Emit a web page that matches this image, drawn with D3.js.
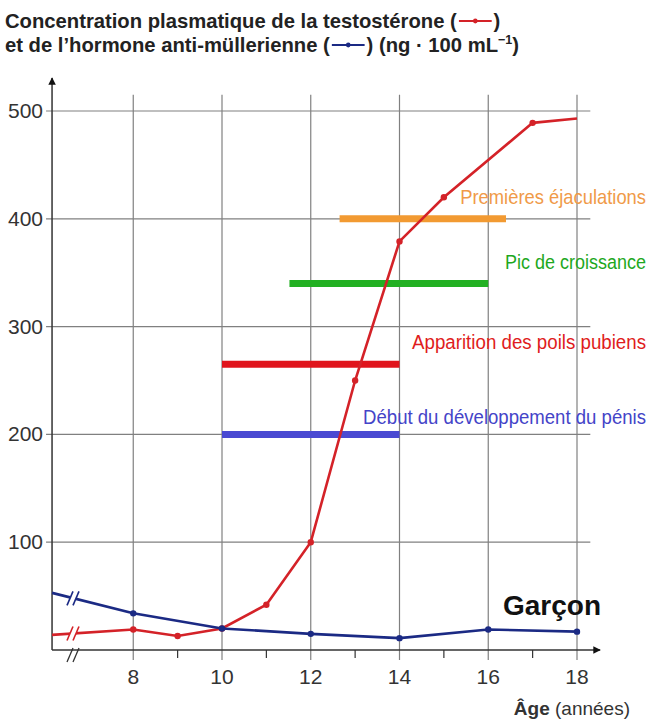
<!DOCTYPE html>
<html lang="fr">
<head>
<meta charset="utf-8">
<title>Testostérone et AMH - Garçon</title>
<script src="https://cdn.jsdelivr.net/npm/d3@7"></script>
<style>
  body { margin: 0; background: #fff; }
  svg text { font-family: "Liberation Sans", Arial, sans-serif; }
</style>
</head>
<body>
<svg id="chart" width="652" height="722"></svg>
<script>
// --- data ---
var testoAges   = [6.17, 8, 9, 10, 11, 12, 13, 14, 15, 17, 18];
var testoValues = [14, 19, 13, 20, 42, 100, 250, 379, 420, 489, 493];
var testoDots   = [8, 9, 10, 11, 12, 13, 14, 15, 17];

var amhAges   = [6.17, 8, 10, 12, 14, 16, 18];
var amhValues = [53, 34, 20, 15, 11, 19, 17];
var amhDots   = [8, 10, 12, 14, 16, 18];

var eventLabels = ["Premières éjaculations", "Pic de croissance", "Apparition des poils pubiens", "Début du développement du pénis"];
var eventStart  = [12.65, 11.52, 10, 10];
var eventEnd    = [16.4, 16, 14, 14];
var eventLevel  = [400, 340, 265, 200];
var eventColors = ["#f29a32", "#22b022", "#e0141c", "#4a4ad2"];
var textColors  = ["#f09a48", "#1ea81e", "#e01c20", "#4444c8"];
var eventText   = [204, 269, 349, 424];
var textWidths  = [186, 141, 234, 283];

var xTicks = [8, 10, 12, 14, 16, 18];
var xMinor = [9, 11, 13, 15, 17];
var yTicks = [100, 200, 300, 400, 500];

var svg = d3.select("#chart");

var x = d3.scaleLinear().domain([10, 18]).range([222, 577]);
var y = d3.scaleLinear().domain([0, 500]).range([650, 111]);

var x0 = x(6.17), xEnd = x(18.52);
var gridColor = "#808080";

// grid
svg.append("g").selectAll("line.h")
    .data(yTicks).enter().append("line")
    .attr("x1", x0 - 6).attr("x2", x(18.3))
    .attr("y1", d => y(d)).attr("y2", d => y(d))
    .style("stroke", gridColor).style("stroke-width", 1.2);

svg.append("g").selectAll("line.v")
    .data(xTicks).enter().append("line")
    .attr("x1", d => x(d)).attr("x2", d => x(d))
    .attr("y1", y(515)).attr("y2", y(0) + 10)
    .style("stroke", gridColor).style("stroke-width", 1.2);

svg.append("g").selectAll("line.m")
    .data(xMinor).enter().append("line")
    .attr("x1", d => x(d)).attr("x2", d => x(d))
    .attr("y1", y(0)).attr("y2", y(0) + 8)
    .style("stroke", "#333").style("stroke-width", 1.2);

// axes with arrows
svg.append("defs").append("marker")
    .attr("id", "arrow").attr("viewBox", "0 0 10 10")
    .attr("refX", 9).attr("refY", 5)
    .attr("markerWidth", 5).attr("markerHeight", 5)
    .attr("orient", "auto")
    .append("path").attr("d", "M0,0 L10,5 L0,10 z").style("fill", "#111");

svg.append("line")
    .attr("x1", x0).attr("x2", x0).attr("y1", y(0)).attr("y2", 78)
    .style("stroke", "#333").style("stroke-width", 1.5)
    .attr("marker-end", "url(#arrow)");
svg.append("line")
    .attr("x1", x0).attr("x2", xEnd).attr("y1", y(0)).attr("y2", y(0))
    .style("stroke", "#333").style("stroke-width", 1.5)
    .attr("marker-end", "url(#arrow)");

svg.append("g").selectAll("text")
    .data(yTicks).enter().append("text")
    .attr("x", 43).attr("y", d => y(d) + 7)
    .attr("text-anchor", "end")
    .style("font-size", "21px").style("fill", "#333")
    .text(d => d);

svg.append("g").selectAll("text")
    .data(xTicks).enter().append("text")
    .attr("x", d => x(d)).attr("y", 684)
    .attr("text-anchor", "middle")
    .style("font-size", "21px").style("fill", "#333")
    .text(d => d);

var axisTitle = svg.append("text")
    .attr("x", 630).attr("y", 715)
    .attr("text-anchor", "end")
    .style("font-size", "19px").style("fill", "#333");
axisTitle.append("tspan").style("font-weight", "bold").text("Âge");
axisTitle.append("tspan").text(" (années)");

// event bars
svg.append("g").selectAll("line")
    .data(eventLabels).enter().append("line")
    .attr("x1", (d, i) => x(eventStart[i]))
    .attr("x2", (d, i) => x(eventEnd[i]))
    .attr("y1", (d, i) => y(eventLevel[i]))
    .attr("y2", (d, i) => y(eventLevel[i]))
    .style("stroke", (d, i) => eventColors[i])
    .style("stroke-width", 7);

// labels squeezed horizontally (condensed look) with a scale transform
svg.append("g").selectAll("text")
    .data(eventLabels).enter().append("text")
    .attr("x", 0).attr("y", 0)
    .attr("text-anchor", "end")
    .style("font-size", "20px")
    .style("fill", (d, i) => textColors[i])
    .text(d => d)
    .attr("transform", function (d, i) {
        var w = this.getComputedTextLength();
        return "translate(646," + eventText[i] + ") scale(" + (textWidths[i] / w) + ",1)";
    });

// curves
var line = d3.line().x(d => x(d[0])).y(d => y(d[1]));

function drawCurve(ages, values, dots, color) {
    var pts = ages.map((a, i) => [a, values[i]]);
    svg.append("path")
        .datum(pts)
        .attr("d", line)
        .style("fill", "none")
        .style("stroke", color)
        .style("stroke-width", 2.6);
    svg.append("g").selectAll("circle")
        .data(pts.filter(p => dots.indexOf(p[0]) >= 0)).enter()
        .append("circle")
        .attr("cx", d => x(d[0])).attr("cy", d => y(d[1]))
        .attr("r", 3.2)
        .style("fill", color);
}

drawCurve(testoAges, testoValues, testoDots, "#d42228");
drawCurve(amhAges, amhValues, amhDots, "#1b2a84");

// break marks (//)
function breakMark(cx, cy, color) {
    var g = svg.append("g").attr("transform", "translate(" + cx + "," + cy + ")");
    g.append("rect").attr("x", -4).attr("y", -6).attr("width", 6).attr("height", 12)
        .style("fill", "#fff");
    [-4, 2].forEach(dx => {
        g.append("line")
            .attr("x1", dx - 3).attr("y1", 7).attr("x2", dx + 3).attr("y2", -7)
            .style("stroke", color).style("stroke-width", 1.6);
    });
}
var xb = 74;
var interp = (ages, values) => values[0] + (values[1] - values[0]) * (x.invert(xb) - ages[0]) / (ages[1] - ages[0]);
breakMark(xb, y(interp(amhAges, amhValues)), "#1b2a84");
breakMark(xb, y(interp(testoAges, testoValues)), "#d42228");
// axis break below
[-4, 2].forEach(dx => {
    svg.append("line")
        .attr("x1", xb + dx - 3).attr("y1", y(0) + 12).attr("x2", xb + dx + 3).attr("y2", y(0) - 2)
        .style("stroke", "#333").style("stroke-width", 1.3);
});

// Garçon
svg.append("text")
    .attr("x", 503).attr("y", 615)
    .style("font-size", "28px").style("font-weight", "bold")
    .style("fill", "#111")
    .text("Garçon");

// title with inline legend marks (condensed horizontally to match)
var title = svg.append("g")
    .style("font-size", "21px").style("font-weight", "bold").style("fill", "#222");

function legendMark(xs, ys, color) {
    title.append("line").attr("x1", xs).attr("x2", xs + 34).attr("y1", ys).attr("y2", ys)
        .style("stroke", color).style("stroke-width", 2.2);
    title.append("circle").attr("cx", xs + 17).attr("cy", ys).attr("r", 2.4).style("fill", color);
}

var t1 = title.append("text").attr("x", 0).attr("y", 28)
    .text("Concentration plasmatique de la testostérone (");
var w1 = t1.node().getComputedTextLength();
legendMark(w1 + 2, 21, "#d42228");
title.append("text").attr("x", w1 + 38).attr("y", 28).text(")");

var t2 = title.append("text").attr("x", 0).attr("y", 52)
    .text("et de l’hormone anti-müllerienne (");
var w2 = t2.node().getComputedTextLength();
legendMark(w2 + 2, 45, "#1b2a84");
var t3 = title.append("text").attr("x", w2 + 38).attr("y", 52);
t3.append("tspan").text(") (ng · 100 mL");
t3.append("tspan").attr("dy", -8).style("font-size", "13px").text("−1");
t3.append("tspan").attr("dy", 8).text(")");

var sx = 452 / w1;
title.attr("transform", "translate(5,0) scale(" + sx + ",1)");
</script>
</body>
</html>
